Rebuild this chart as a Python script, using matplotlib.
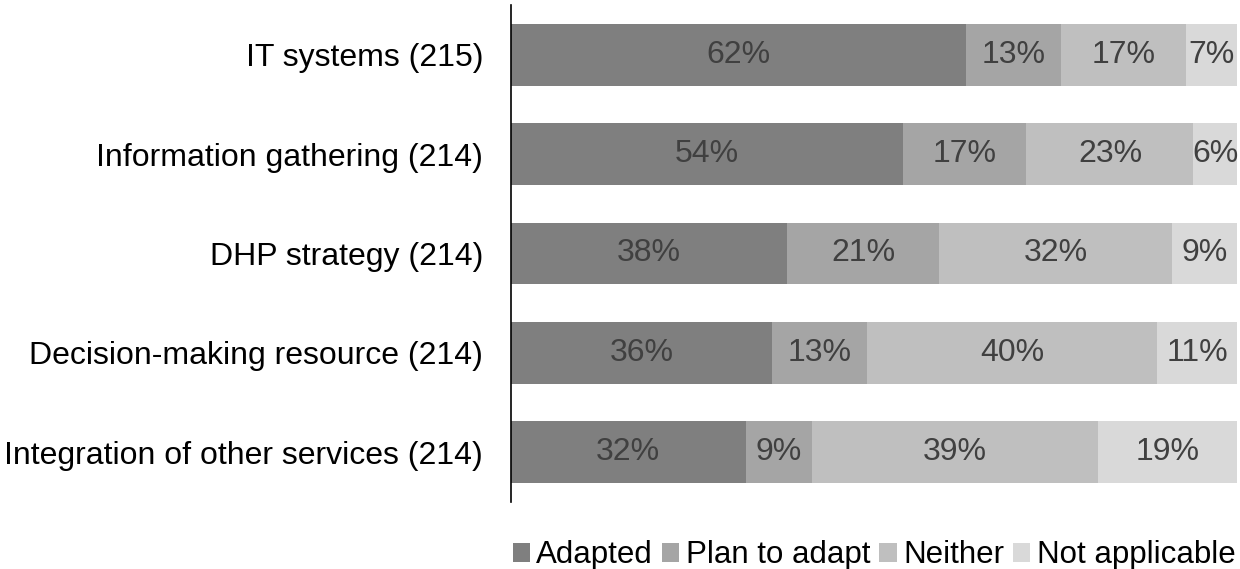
import matplotlib.pyplot as plt
import numpy as np

plt.rcParams['font.family'] = ['Liberation Sans', 'DejaVu Sans']

categories = [
    "IT systems (215)",
    "Information gathering (214)",
    "DHP strategy (214)",
    "Decision-making resource (214)",
    "Integration of other services (214)",
]
adapted = [62, 54, 38, 36, 32]
plan_to_adapt = [13, 17, 21, 13, 9]
neither = [17, 23, 32, 40, 39]
not_applicable = [7, 6, 9, 11, 19]

series_names = ["Adapted", "Plan to adapt", "Neither", "Not applicable"]
series_colors = ["#7f7f7f", "#a5a5a5", "#bfbfbf", "#d9d9d9"]

data = np.array([adapted, plan_to_adapt, neither, not_applicable], dtype=float)
# 100% stacked: each row is scaled to its own total
shares = data / data.sum(axis=0) * 100

fig = plt.figure(figsize=(12.4, 5.69), dpi=100)
ax = fig.add_axes([511 / 1240, 1 - 502 / 569, 726 / 1240, 497 / 569])

y = np.arange(len(categories))
left = np.zeros(len(categories))
for name, vals, widths, color in zip(series_names, data, shares, series_colors):
    ax.barh(y, widths, left=left, height=0.62, color=color, label=name)
    for yi, l, w, v in zip(y, left, widths, vals):
        ax.text(l + w / 2, yi, f"{int(v)}%", ha='center', va='center',
                fontsize=23, color='#404040')
    left += widths

ax.set_xlim(0, 100)
ax.set_ylim(len(categories) - 0.5, -0.5)
ax.set_yticks(y)
ax.set_yticklabels(categories, fontsize=23)
ax.tick_params(axis='y', length=0, pad=20)
ax.set_xticks([])
for side in ['top', 'right', 'bottom']:
    ax.spines[side].set_visible(False)
ax.spines['left'].set_linewidth(1.2)

ax.legend(loc='center', bbox_to_anchor=(0.5, -0.107), ncol=4, frameon=False,
          fontsize=22.5, handlelength=0.55, handleheight=0.55, handletextpad=0.2,
          columnspacing=0.3, borderaxespad=0, borderpad=0)

fig.savefig("out.png", dpi=100)
